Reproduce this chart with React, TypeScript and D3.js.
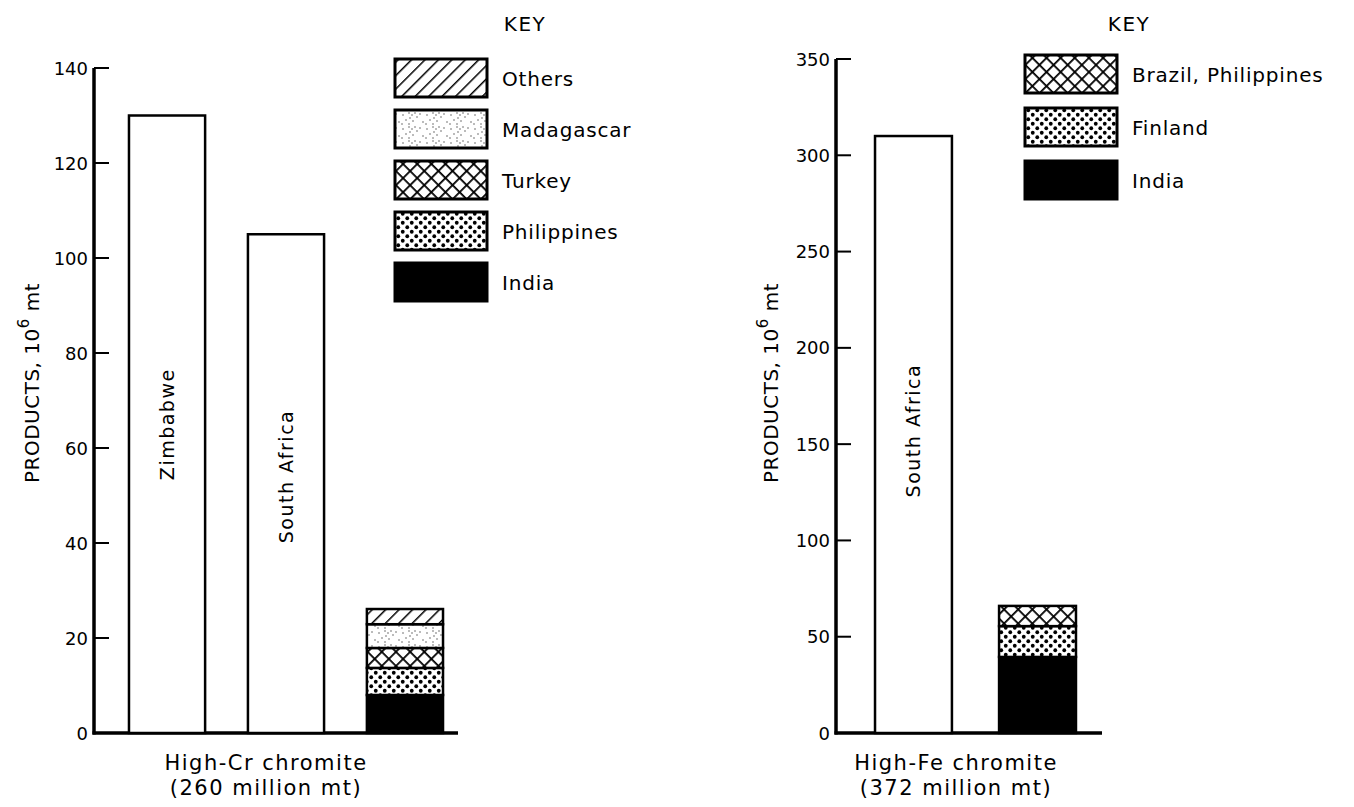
import React from "react";
import * as d3 from "d3";

// ---- Data ----
const crSingleNames = ["Zimbabwe", "South Africa"];
const crSingleValues = [130, 105];
const crStackKeys = ["India", "Philippines", "Turkey", "Madagascar", "Others"];
const crStackValues = [8, 5.7, 4.2, 5, 3.2];
const crTicks = [0, 20, 40, 60, 80, 100, 120, 140];

const feSingleNames = ["South Africa"];
const feSingleValues = [310];
const feStackKeys = ["India", "Finland", "Brazil, Philippines"];
const feStackValues = [39.5, 16, 10.5];
const feTicks = [0, 50, 100, 150, 200, 250, 300, 350];

const patternFor: Record<string, string> = {
  India: "black",
  Philippines: "url(#dots)",
  Finland: "url(#dots)",
  Turkey: "url(#cross)",
  "Brazil, Philippines": "url(#cross)",
  Madagascar: "url(#stipple)",
  Others: "url(#hatch)",
};

const FONT = "'DejaVu Sans', sans-serif";

function Panel(props: {
  singleNames: string[];
  singleValues: number[];
  stackKeys: string[];
  stackValues: number[];
  ticks: number[];
  yMax: number;
  yTop: number;
  axisX: number;
  axisEnd: number;
  bandRange: [number, number];
  padInner: number;
  labelVals: number[];
  titleX: number;
  caption: string[];
  captionX: number;
  keyX: number;
  swatchX: number;
  swatchY0: number;
  swatchStep: number;
}) {
  const p = props;
  const y = d3.scaleLinear().domain([0, p.yMax]).range([733, p.yTop]);
  const cats = [...p.singleNames, "__stack"];
  const x = d3
    .scaleBand<string>()
    .domain(cats)
    .range(p.bandRange)
    .paddingInner(p.padInner)
    .paddingOuter(0.5);
  const row: Record<string, number> = {};
  p.stackKeys.forEach((k, i) => (row[k] = p.stackValues[i]));
  const series = d3.stack<Record<string, number>>().keys(p.stackKeys)([row]);
  const legendKeys = [...p.stackKeys].reverse();
  const bw = x.bandwidth();
  const tickLen = 15;
  return (
    <g fontFamily={FONT} fill="black">
      {/* y axis */}
      <line x1={p.axisX} x2={p.axisX} y1={y(0) + 1.5} y2={y(p.yMax)} stroke="black" strokeWidth={3.5} />
      <line x1={p.axisX - 1.5} x2={p.axisEnd} y1={y(0)} y2={y(0)} stroke="black" strokeWidth={3.5} />
      {p.ticks.map((t) => (
        <g key={t}>
          {t > 0 && (
            <line x1={p.axisX} x2={p.axisX + tickLen} y1={y(t)} y2={y(t)} stroke="black" strokeWidth={2} />
          )}
          <text x={p.axisX - 6} y={y(t)} textAnchor="end" dominantBaseline="central" fontSize={18}>
            {t}
          </text>
        </g>
      ))}
      <text
        transform={`translate(${p.titleX},${383}) rotate(-90)`}
        textAnchor="middle"
        dominantBaseline="central"
        fontSize={20}
        letterSpacing={0.5}
      >
        PRODUCTS, 10
        <tspan dy={-8} fontSize={15}>6</tspan>
        <tspan dy={8}> mt</tspan>
      </text>
      {/* single bars */}
      {p.singleNames.map((n, i) => (
        <g key={n}>
          <rect
            x={x(n)}
            y={y(p.singleValues[i])}
            width={bw}
            height={y(0) - y(p.singleValues[i])}
            fill="white"
            stroke="black"
            strokeWidth={2.5}
          />
          <text
            transform={`translate(${(x(n) as number) + bw / 2},${y(p.labelVals[i])}) rotate(-90)`}
            textAnchor="middle"
            dominantBaseline="central"
            fontSize={19}
            letterSpacing={1.5}
          >
            {n}
          </text>
        </g>
      ))}
      {/* stacked bar */}
      {series.map((s) => (
        <rect
          key={s.key}
          x={x("__stack")}
          y={y(s[0][1])}
          width={bw}
          height={y(s[0][0]) - y(s[0][1])}
          fill={patternFor[s.key]}
          stroke="black"
          strokeWidth={2.5}
        />
      ))}
      {/* caption */}
      {p.caption.map((c, i) => (
        <text key={c} x={p.captionX} y={763 + i * 25} textAnchor="middle" dominantBaseline="central" fontSize={21} letterSpacing={1.5}>
          {c}
        </text>
      ))}
      {/* legend */}
      <text x={p.keyX} y={24} textAnchor="middle" dominantBaseline="central" fontSize={20} letterSpacing={1.5}>
        KEY
      </text>
      {legendKeys.map((k, i) => {
        const sy = p.swatchY0 + i * p.swatchStep;
        return (
          <g key={k}>
            <rect x={p.swatchX} y={sy} width={92} height={38} fill={patternFor[k]} stroke="black" strokeWidth={3} />
            <text x={p.swatchX + 107} y={sy + 20} dominantBaseline="central" fontSize={20} letterSpacing={0.8}>
              {k}
            </text>
          </g>
        );
      })}
    </g>
  );
}

export default function App() {
  return (
    <svg
      width={1354}
      height={807}
      style={{ position: "absolute", left: 0, top: 0, background: "white" }}
    >
      <defs>
        <pattern id="hatch" patternUnits="userSpaceOnUse" width={9.5} height={9.5} patternTransform="rotate(45)">
          <rect width={9.5} height={9.5} fill="white" />
          <line x1={0} y1={0} x2={0} y2={9.5} stroke="black" strokeWidth={3} />
        </pattern>
        <pattern id="cross" patternUnits="userSpaceOnUse" width={10} height={10} patternTransform="rotate(45)">
          <rect width={10} height={10} fill="white" />
          <line x1={0} y1={0} x2={0} y2={10} stroke="black" strokeWidth={3.6} />
          <line x1={0} y1={0} x2={10} y2={0} stroke="black" strokeWidth={3.6} />
        </pattern>
        <pattern id="dots" patternUnits="userSpaceOnUse" width={9} height={9}>
          <rect width={9} height={9} fill="white" />
          <circle cx={2.25} cy={2.25} r={1.9} fill="black" />
          <circle cx={6.75} cy={6.75} r={1.9} fill="black" />
        </pattern>
        <pattern id="stipple" patternUnits="userSpaceOnUse" width={24} height={14}>
          <rect width={24} height={14} fill="white" />
          <circle cx={1} cy={1} r={0.7} fill="#444" />
          <circle cx={4} cy={3} r={0.7} fill="#444" />
          <circle cx={7} cy={1} r={0.7} fill="#444" />
          <circle cx={2} cy={6} r={0.7} fill="#444" />
          <circle cx={5} cy={9} r={0.7} fill="#444" />
          <circle cx={9} cy={5} r={0.7} fill="#444" />
          <circle cx={1} cy={12} r={0.7} fill="#444" />
          <circle cx={15} cy={10} r={0.7} fill="#444" />
          <circle cx={19} cy={3} r={0.7} fill="#444" />
          <circle cx={22} cy={8} r={0.7} fill="#444" />
          <circle cx={12} cy={2} r={0.7} fill="#444" />
          <circle cx={18} cy={12} r={0.7} fill="#444" />
        </pattern>
      </defs>
      <Panel
        singleNames={crSingleNames}
        singleValues={crSingleValues}
        stackKeys={crStackKeys}
        stackValues={crStackValues}
        ticks={crTicks}
        yMax={140}
        yTop={68}
        axisX={94}
        axisEnd={458}
        bandRange={[69.5, 502.5]}
        padInner={0.36}
        labelVals={[65, 54]}
        titleX={32}
        caption={["High-Cr chromite", "(260 million mt)"]}
        captionX={266}
        keyX={525}
        swatchX={395}
        swatchY0={59}
        swatchStep={51}
      />
      <Panel
        singleNames={feSingleNames}
        singleValues={feSingleValues}
        stackKeys={feStackKeys}
        stackValues={feStackValues}
        ticks={feTicks}
        yMax={350}
        yTop={59}
        axisX={836}
        axisEnd={1102}
        bandRange={[813, 1138]}
        padInner={0.38}
        labelVals={[157]}
        titleX={771}
        caption={["High-Fe chromite", "(372 million mt)"]}
        captionX={956}
        keyX={1129}
        swatchX={1025}
        swatchY0={55}
        swatchStep={53}
      />
    </svg>
  );
}
